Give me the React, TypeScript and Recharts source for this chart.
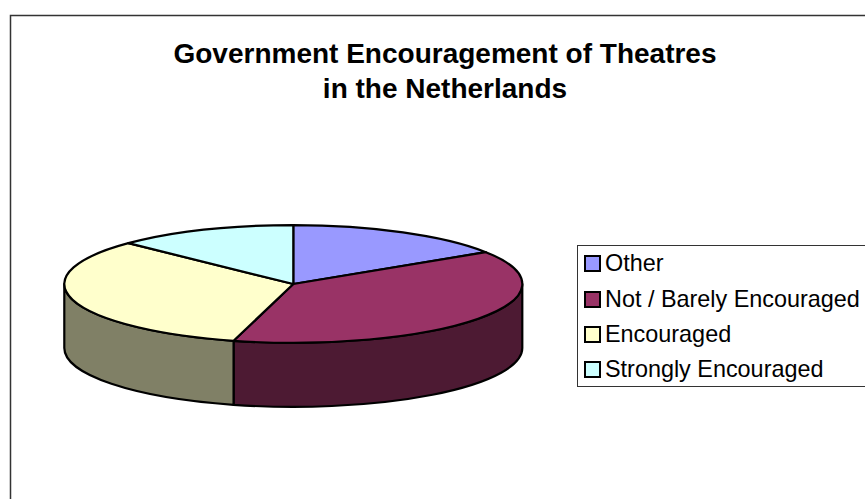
import { PieChart, Pie, Legend } from "recharts";

const categories = ["Other", "Not / Barely Encouraged", "Encouraged", "Strongly Encouraged"];
const shares = [15.9, 38.3, 33.0, 12.8];
const topColors = ["#9999FF", "#993366", "#FFFFCC", "#CCFFFF"];
const wallColors = ["#4D4D80", "#4D1A33", "#808066", "#668080"];
const titleLines = ["Government Encouragement of Theatres", "in the Netherlands"];

const tableData = categories.map((name, i) => ({
  name,
  value: shares[i],
  fill: topColors[i],
  wall: wallColors[i],
}));

// the pie is squashed into an ellipse and given a rim to look 3D
const SQUASH = 0.257;
const DEPTH = 64;
const RAD = Math.PI / 180;

const EllipseSlice = (props: any) => {
  const { cx, cy, outerRadius, startAngle, endAngle, fill, wall } = props;
  const rx = outerRadius;
  const ry = outerRadius * SQUASH;
  const px = (a: number) => cx + rx * Math.cos(a * RAD);
  const py = (a: number) => cy - ry * Math.sin(a * RAD);
  const large = Math.abs(startAngle - endAngle) > 180 ? 1 : 0;
  const top = `M${cx},${cy} L${px(startAngle)},${py(startAngle)} A${rx},${ry} 0 ${large} 1 ${px(endAngle)},${py(endAngle)} Z`;

  // only the front half of the rim can be seen
  const hi = Math.min(startAngle, 0);
  const lo = Math.max(endAngle, -180);
  const rim =
    hi > lo
      ? `M${px(hi)},${py(hi)} A${rx},${ry} 0 0 1 ${px(lo)},${py(lo)} L${px(lo)},${py(lo) + DEPTH} A${rx},${ry} 0 0 0 ${px(hi)},${py(hi) + DEPTH} Z`
      : null;

  return (
    <g stroke="#000" strokeWidth={2.2} strokeLinejoin="round">
      {rim && <path d={rim} fill={wall} />}
      <path d={top} fill={fill} />
    </g>
  );
};

const LegendBox = ({ payload }: any) => (
  <div
    style={{
      boxSizing: "border-box",
      width: 320,
      height: 142,
      border: "1px solid #333",
      background: "#fff",
    }}
  >
    {(payload || []).map((entry: any) => (
      <div
        key={entry.value}
        style={{
          display: "flex",
          alignItems: "center",
          height: 35.4,
          fontFamily: "'Liberation Sans', Arial, sans-serif",
          fontSize: 23.4,
          color: "#000",
        }}
      >
        <span
          style={{
            boxSizing: "border-box",
            width: 17,
            height: 17,
            marginLeft: 6,
            marginRight: 4,
            border: "2.5px solid #000",
            background: entry.color,
          }}
        />
        {entry.value}
      </div>
    ))}
  </div>
);

export default function App() {
  return (
    <div style={{ position: "absolute", left: 0, top: 0, width: 865, height: 499, overflow: "hidden", background: "#fff" }}>
      <PieChart width={865} height={499} margin={{ top: 0, right: 0, bottom: 0, left: 0 }}>
        <rect x={10.5} y={15.5} width={900} height={600} fill="#fff" stroke="#333" strokeWidth={1.5} />
        {titleLines.map((line, i) => (
          <text
            key={line}
            x={445}
            y={63 + i * 35}
            textAnchor="middle"
            fontFamily="'Liberation Sans', Arial, sans-serif"
            fontWeight="bold"
            fontSize={28}
            fill="#000"
          >
            {line}
          </text>
        ))}
        <Pie
          data={tableData}
          dataKey="value"
          nameKey="name"
          cx={293.3}
          cy={284}
          innerRadius={0}
          outerRadius={229}
          startAngle={90}
          endAngle={-270}
          shape={EllipseSlice}
          isAnimationActive={false}
        />
        <Legend
          content={<LegendBox />}
          layout="vertical"
          itemSorter={null}
          wrapperStyle={{ position: "absolute", left: 577, top: 245, width: 320, height: 142 }}
        />
      </PieChart>
    </div>
  );
}
